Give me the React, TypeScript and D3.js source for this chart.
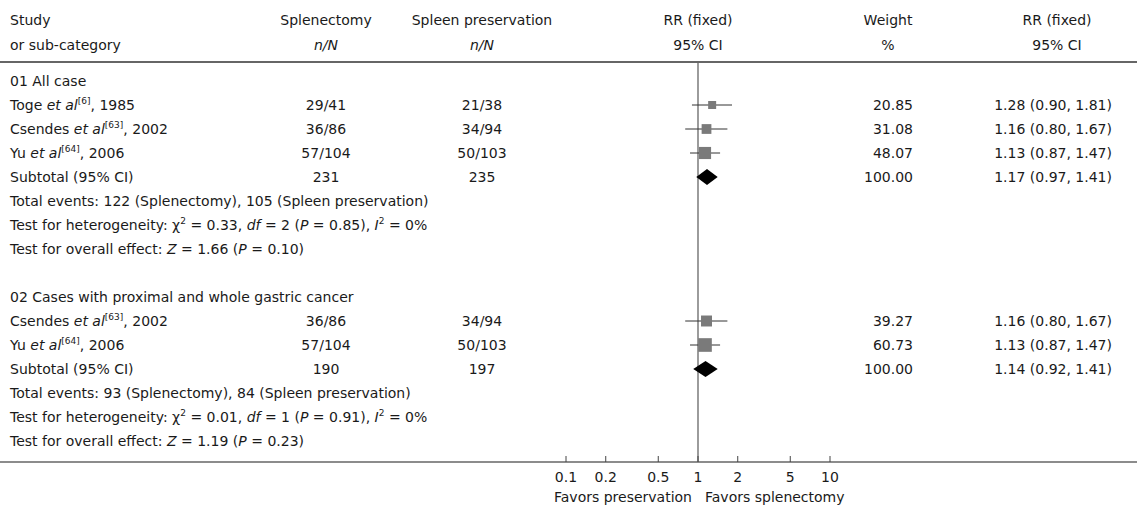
import React from "react";
import * as d3 from "d3";

// group 1: all cases
const g1Authors = ["Toge", "Csendes", "Yu"];
const g1Refs = ["6", "63", "64"];
const g1Years = ["1985", "2002", "2006"];
const g1SplenN = [29, 36, 57];
const g1SplenTot = [41, 86, 104];
const g1PresN = [21, 34, 50];
const g1PresTot = [38, 94, 103];
const g1Weight = [20.85, 31.08, 48.07];
const g1RR = [1.28, 1.16, 1.13];
const g1Lo = [0.9, 0.8, 0.87];
const g1Hi = [1.81, 1.67, 1.47];
const g1Sub = { splen: 231, pres: 235, rr: 1.17, lo: 0.97, hi: 1.41, ev1: 122, ev2: 105, chi: "0.33", df: 2, pHet: "0.85", i2: "0", z: "1.66", p: "0.10" };

// group 2: proximal and whole gastric cancer
const g2Authors = ["Csendes", "Yu"];
const g2Refs = ["63", "64"];
const g2Years = ["2002", "2006"];
const g2SplenN = [36, 57];
const g2SplenTot = [86, 104];
const g2PresN = [34, 50];
const g2PresTot = [94, 103];
const g2Weight = [39.27, 60.73];
const g2RR = [1.16, 1.13];
const g2Lo = [0.8, 0.87];
const g2Hi = [1.67, 1.47];
const g2Sub = { splen: 190, pres: 197, rr: 1.14, lo: 0.92, hi: 1.41, ev1: 93, ev2: 84, chi: "0.01", df: 1, pHet: "0.91", i2: "0", z: "1.19", p: "0.23" };

const groupTitles = ["01 All case", "02 Cases with proximal and whole gastric cancer"];
const tickValues = [0.1, 0.2, 0.5, 1, 2, 5, 10];

const W = 1137;
const H = 505;
const FONT = "DejaVu Sans";
const FS = 14;
const SUP = 9;
const ROW0 = 81;
const ROWH = 24;
const topLine = 62;
const axisY = 462;

const colStudy = 10;
const colSplen = 326;
const colPres = 482;
const colWeight = 913;
const colWeightHead = 888;
const colCI = 1112;
const colCIHead = 1057;

const fmt2 = d3.format(".2f");

export default function App() {
  const x = d3.scaleLog().domain([0.1, 10]).range([566, 830]);
  const size = d3.scaleSqrt().domain([0, 100]).range([0, 17.5]);
  const rowY = (i: number) => ROW0 + i * ROWH;
  const base = (y: number) => y + 5;

  const groups = [
    { authors: g1Authors, refs: g1Refs, years: g1Years, sN: g1SplenN, sT: g1SplenTot, pN: g1PresN, pT: g1PresTot, w: g1Weight, rr: g1RR, lo: g1Lo, hi: g1Hi, sub: g1Sub },
    { authors: g2Authors, refs: g2Refs, years: g2Years, sN: g2SplenN, sT: g2SplenTot, pN: g2PresN, pT: g2PresTot, w: g2Weight, rr: g2RR, lo: g2Lo, hi: g2Hi, sub: g2Sub },
  ];

  const els: React.ReactNode[] = [];
  let row = 0;
  groups.forEach((g, gi) => {
    els.push(
      <text key={`t${gi}`} x={colStudy} y={base(rowY(row))}>{groupTitles[gi]}</text>
    );
    row++;
    g.authors.forEach((a, i) => {
      const y = rowY(row);
      const s = size(g.w[i]);
      els.push(
        <g key={`s${gi}-${i}`}>
          <text x={colStudy} y={base(y)}>
            {a + " "}
            <tspan fontStyle="italic">et al</tspan>
            <tspan fontSize={SUP} dy={-6}>{`[${g.refs[i]}]`}</tspan>
            <tspan dy={6}>{`, ${g.years[i]}`}</tspan>
          </text>
          <text x={colSplen} y={base(y)} textAnchor="middle">{`${g.sN[i]}/${g.sT[i]}`}</text>
          <text x={colPres} y={base(y)} textAnchor="middle">{`${g.pN[i]}/${g.pT[i]}`}</text>
          <line x1={x(g.lo[i])} x2={x(g.hi[i])} y1={y} y2={y} stroke="#333" strokeWidth={1} />
          <rect x={x(g.rr[i]) - s / 2} y={y - s / 2} width={s} height={s} fill="#7a7a7a" />
          <text x={colWeight} y={base(y)} textAnchor="end">{fmt2(g.w[i])}</text>
          <text x={colCI} y={base(y)} textAnchor="end">{`${fmt2(g.rr[i])} (${fmt2(g.lo[i])}, ${fmt2(g.hi[i])})`}</text>
        </g>
      );
      row++;
    });
    // subtotal
    {
      const y = rowY(row);
      const sb = g.sub;
      const dpath = `M${x(sb.lo)},${y} L${x(sb.rr)},${y - 8} L${x(sb.hi)},${y} L${x(sb.rr)},${y + 8} Z`;
      els.push(
        <g key={`sub${gi}`}>
          <text x={colStudy} y={base(y)}>Subtotal (95% CI)</text>
          <text x={colSplen} y={base(y)} textAnchor="middle">{sb.splen}</text>
          <text x={colPres} y={base(y)} textAnchor="middle">{sb.pres}</text>
          <path d={dpath} fill="#000" />
          <text x={colWeight} y={base(y)} textAnchor="end">{fmt2(100)}</text>
          <text x={colCI} y={base(y)} textAnchor="end">{`${fmt2(sb.rr)} (${fmt2(sb.lo)}, ${fmt2(sb.hi)})`}</text>
        </g>
      );
      row++;
      els.push(
        <text key={`ev${gi}`} x={colStudy} y={base(rowY(row))}>
          {`Total events: ${sb.ev1} (Splenectomy), ${sb.ev2} (Spleen preservation)`}
        </text>
      );
      row++;
      els.push(
        <text key={`het${gi}`} x={colStudy} y={base(rowY(row))}>
          {"Test for heterogeneity: χ"}
          <tspan fontSize={SUP} dy={-6}>2</tspan>
          <tspan dy={6}>{` = ${sb.chi}, `}</tspan>
          <tspan fontStyle="italic">df</tspan>
          {` = ${sb.df} (`}
          <tspan fontStyle="italic">P</tspan>
          {` = ${sb.pHet}), `}
          <tspan fontStyle="italic">I</tspan>
          <tspan fontSize={SUP} dy={-6}>2</tspan>
          <tspan dy={6}>{` = ${sb.i2}%`}</tspan>
        </text>
      );
      row++;
      els.push(
        <text key={`ov${gi}`} x={colStudy} y={base(rowY(row))}>
          {"Test for overall effect: "}
          <tspan fontStyle="italic">Z</tspan>
          {` = ${sb.z} (`}
          <tspan fontStyle="italic">P</tspan>
          {` = ${sb.p})`}
        </text>
      );
      row++;
    }
    row++; // blank row between groups
  });

  return (
    <div style={{ position: "absolute", left: 0, top: 0 }}>
      <svg width={W} height={H} fontFamily={FONT} fontSize={FS} fill="#1a1a1a" style={{ display: "block", background: "#fff" }}>
        {/* header */}
        <text x={colStudy} y={25}>Study</text>
        <text x={colStudy} y={50}>or sub-category</text>
        <text x={colSplen} y={25} textAnchor="middle">Splenectomy</text>
        <text x={colSplen} y={50} textAnchor="middle" fontStyle="italic">n/N</text>
        <text x={colPres} y={25} textAnchor="middle">Spleen preservation</text>
        <text x={colPres} y={50} textAnchor="middle" fontStyle="italic">n/N</text>
        <text x={x(1)} y={25} textAnchor="middle">RR (fixed)</text>
        <text x={x(1)} y={50} textAnchor="middle">95% CI</text>
        <text x={colWeightHead} y={25} textAnchor="middle">Weight</text>
        <text x={colWeightHead} y={50} textAnchor="middle">%</text>
        <text x={colCIHead} y={25} textAnchor="middle">RR (fixed)</text>
        <text x={colCIHead} y={50} textAnchor="middle">95% CI</text>
        <line x1={0} x2={W} y1={topLine} y2={topLine} stroke="#333" strokeWidth={1.3} />

        {/* line of no effect */}
        <line x1={x(1)} x2={x(1)} y1={topLine} y2={axisY} stroke="#666" strokeWidth={1.3} />

        {els}

        {/* axis */}
        <line x1={0} x2={W} y1={axisY} y2={axisY} stroke="#666" strokeWidth={1.3} />
        {tickValues.map((t) => (
          <g key={`tk${t}`}>
            <line x1={x(t)} x2={x(t)} y1={axisY - 6} y2={axisY} stroke="#444" />
            <text x={x(t)} y={482} textAnchor="middle">{String(t)}</text>
          </g>
        ))}
        <text x={x(1) - 6} y={502} textAnchor="end">Favors preservation</text>
        <text x={x(1) + 7} y={502}>Favors splenectomy</text>
      </svg>
    </div>
  );
}
